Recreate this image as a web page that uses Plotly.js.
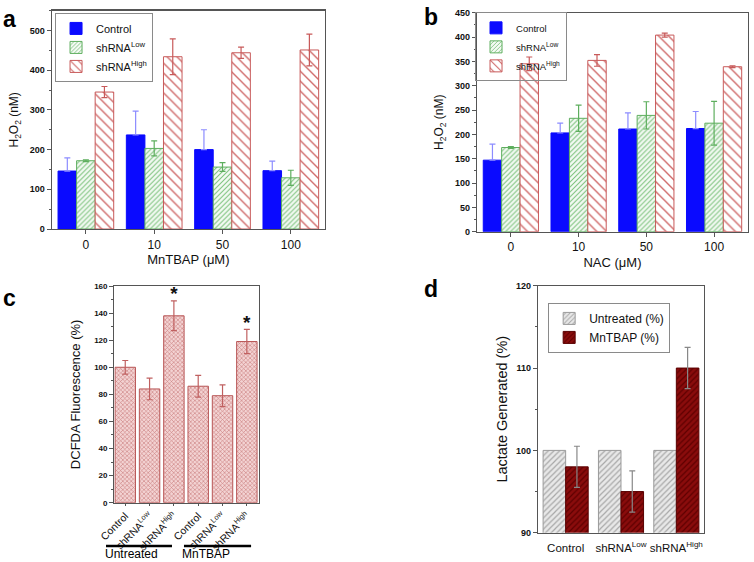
<!DOCTYPE html>
<html>
<head>
<meta charset="utf-8">
<script src="https://cdn.plot.ly/plotly-3.0.1.min.js"></script>
<style>html,body{margin:0;padding:0;background:#fff;}#chart{width:754px;height:562px;}</style>
</head>
<body>
<div id="chart"></div>
<script>
// ---------- Panel a: H2O2 vs MnTBAP ----------
const doseCats = ["0", "10", "50", "100"];
const aControl = [146, 237, 200, 147];
const aControlErr = [33, 60, 50, 24];
const aLow = [172, 203, 156, 129];
const aLowErr = [2, 19, 11, 19];
const aHigh = [345, 434, 444, 451];
const aHighErr = [14, 45, 14, 40];

// ---------- Panel b: H2O2 vs NAC ----------
const bControl = [147, 203, 211, 212];
const bControlErr = [33, 20, 33, 35];
const bLow = [173, 233, 239, 223];
const bLowErr = [2, 27, 28, 45];
const bHigh = [345, 352, 404, 339];
const bHighErr = [14, 12, 4, 2];

// ---------- Panel c: DCFDA fluorescence ----------
const cLabels = ["Control", "shRNA<sup>Low</sup>", "shRNA<sup>High</sup>", "Control", "shRNA<sup>Low</sup>", "shRNA<sup>High</sup>"];
const cValues = [100, 84, 138, 86, 79, 119];
const cErr = [5, 8, 11, 8, 8, 9];
const cStars = ["", "", "*", "", "", "*"];
const cGroups = ["Untreated", "MnTBAP"];

// ---------- Panel d: Lactate ----------
const dCats = ["Control", "shRNA<sup>Low</sup>", "shRNA<sup>High</sup>"];
const dUntreated = [100, 100, 100];
const dMnTBAP = [98, 95, 110];
const dMnTBAPErr = [2.5, 2.5, 2.5];

const FONT = "Liberation Sans, Arial, sans-serif";
const BLUE = "#0a0aff";
const GREEN = "#5eae5e";
const RED = "#c85a5a";

function ctrlTrace(x, y, err, xa, ya, lg) {
  return {type: "bar", name: "Control", x: x, y: y, xaxis: xa, yaxis: ya, legend: lg,
    marker: {color: BLUE, line: {color: BLUE, width: 1}},
    error_y: {type: "data", symmetric: false, array: err, arrayminus: err.map(() => 0), color: "#8c8cff", thickness: 1.2, width: 3}};
}
function lowTrace(x, y, err, xa, ya, lg) {
  return {type: "bar", name: "shRNA<sup>Low</sup>", x: x, y: y, xaxis: xa, yaxis: ya, legend: lg,
    marker: {color: "#f4faf4", line: {color: GREEN, width: 1},
      pattern: {shape: "/", fgcolor: "#7cc27c", bgcolor: "#f4faf4", size: 3.5, solidity: 0.3}},
    error_y: {type: "data", array: err, color: GREEN, thickness: 1.2, width: 3}};
}
function highTrace(x, y, err, xa, ya, lg) {
  return {type: "bar", name: "shRNA<sup>High</sup>", x: x, y: y, xaxis: xa, yaxis: ya, legend: lg,
    marker: {color: "#ffffff", line: {color: RED, width: 1},
      pattern: {shape: "\\", fgcolor: "#d06a6a", bgcolor: "#ffffff", size: 7, solidity: 0.2}},
    error_y: {type: "data", array: err, color: RED, thickness: 1.2, width: 3}};
}

const cIdx = cLabels.map((_, i) => i);
const starIdx = cIdx.filter(i => cStars[i] !== "");

const data = [
  ctrlTrace(doseCats, aControl, aControlErr, "x", "y", "legend"),
  lowTrace(doseCats, aLow, aLowErr, "x", "y", "legend"),
  highTrace(doseCats, aHigh, aHighErr, "x", "y", "legend"),
  ctrlTrace(doseCats, bControl, bControlErr, "x2", "y2", "legend2"),
  lowTrace(doseCats, bLow, bLowErr, "x2", "y2", "legend2"),
  highTrace(doseCats, bHigh, bHighErr, "x2", "y2", "legend2"),
  {type: "bar", name: "DCFDA", x: cIdx, y: cValues, xaxis: "x3", yaxis: "y3", showlegend: false, width: 0.84,
    marker: {color: "#eec4c4", line: {color: "#b85555", width: 1},
      pattern: {shape: "x", fgcolor: "#c97b7b", bgcolor: "#f3d3d3", size: 3, solidity: 0.35}},
    error_y: {type: "data", array: cErr, color: "#c06060", thickness: 1.2, width: 3}},
  {type: "scatter", mode: "text", x: starIdx, y: starIdx.map(i => cValues[i] + cErr[i] + 4), text: starIdx.map(i => cStars[i]),
    xaxis: "x3", yaxis: "y3", showlegend: false, textfont: {family: FONT, size: 19, color: "#111", weight: "bold"}, hoverinfo: "skip"},
  {type: "bar", name: "Untreated (%)", x: dCats, y: dUntreated, xaxis: "x4", yaxis: "y4", legend: "legend3",
    marker: {color: "#e4e4e4", line: {color: "#9a9a9a", width: 1},
      pattern: {shape: "/", fgcolor: "#a8a8a8", bgcolor: "#e8e8e8", size: 4, solidity: 0.3}}},
  {type: "bar", name: "MnTBAP (%)", x: dCats, y: dMnTBAP, xaxis: "x4", yaxis: "y4", legend: "legend3",
    marker: {color: "#850a0a", line: {color: "#5a0000", width: 1},
      pattern: {shape: "/", fgcolor: "#5e0000", bgcolor: "#8a0c0c", size: 4, solidity: 0.3}},
    error_y: {type: "data", array: dMnTBAPErr, color: "#888888", thickness: 1.2, width: 3}}
];

const axBase = {showline: true, mirror: true, linecolor: "#555", linewidth: 1.2, showgrid: false, zeroline: false,
  ticks: "outside", ticklen: 4, tickcolor: "#555", fixedrange: true};

function legendCfg(x, y, size, bg) {
  return {x: x, y: y, xanchor: "left", yanchor: "top", bgcolor: bg, bordercolor: "#8a8a8a", borderwidth: 1,
    font: {family: FONT, size: size, color: "#111"}, tracegroupgap: 0, itemwidth: 30};
}

function label(txt, x, y, size, extra) {
  return Object.assign({text: txt, xref: "paper", yref: "paper", x: x, y: y, xanchor: "center", yanchor: "middle",
    showarrow: false, font: {size: size, color: "#000"}}, extra || {});
}

const layout = {
  width: 754, height: 562,
  margin: {l: 0, r: 0, t: 0, b: 0},
  paper_bgcolor: "#fff", plot_bgcolor: "#fff",
  barmode: "group", bargap: 0.185, bargroupgap: 0,
  font: {family: FONT, color: "#111"},
  showlegend: true,
  legend: legendCfg(0.073, 0.977, 11, "#ffffff"),
  legend2: legendCfg(0.630, 0.978, 9.5, "rgba(255,255,255,0)"),
  legend3: legendCfg(0.727, 0.461, 12, "#ffffff"),
  xaxis: Object.assign({}, axBase, {domain: [0.0686, 0.431], anchor: "y", type: "category", range: [-0.5, 3.5],
    tickfont: {size: 12}, title: {text: "MnTBAP (μM)", font: {size: 13}, standoff: 4}}),
  yaxis: Object.assign({}, axBase, {domain: [0.5925, 0.981], anchor: "x", range: [0, 550], dtick: 100,
    minor: {ticks: "outside", ticklen: 2, dtick: 50, tickcolor: "#555"},
    tickfont: {size: 9, weight: "bold"}, title: {text: "H<sub>2</sub>O<sub>2</sub> (nM)", font: {size: 12}, standoff: 8}}),
  xaxis2: Object.assign({}, axBase, {domain: [0.6326, 0.992], anchor: "y2", type: "category", range: [-0.5, 3.5],
    tickfont: {size: 12}, title: {text: "NAC (μM)", font: {size: 13}, standoff: 4}}),
  yaxis2: Object.assign({}, axBase, {domain: [0.5877, 0.9774], anchor: "x2", range: [0, 450], dtick: 50,
    minor: {ticks: "outside", ticklen: 2, dtick: 25, tickcolor: "#555"},
    tickfont: {size: 9, weight: "bold"}, title: {text: "H<sub>2</sub>O<sub>2</sub> (nM)", font: {size: 12}, standoff: 8}}),
  xaxis3: Object.assign({}, axBase, {domain: [0.1516, 0.3435], anchor: "y3", range: [-0.45, 5.5],
    tickmode: "array", tickvals: cIdx, ticktext: cLabels, tickangle: -45, ticklen: 2, tickfont: {size: 10.5}}),
  yaxis3: Object.assign({}, axBase, {domain: [0.1055, 0.4911], anchor: "x3", range: [0, 160], dtick: 20,
    minor: {ticks: "outside", ticklen: 2, dtick: 10, tickcolor: "#555"},
    tickfont: {size: 8, weight: "bold"}, title: {text: "DCFDA Fluorescence (%)", font: {size: 13}, standoff: 10}}),
  xaxis4: Object.assign({}, axBase, {domain: [0.7135, 0.9337], anchor: "y4", type: "category", range: [-0.5, 2.5],
    ticks: "", tickangle: 0, ticklabelstandoff: 4, tickfont: {size: 11.5}}),
  yaxis4: Object.assign({}, axBase, {domain: [0.0521, 0.4916], anchor: "x4", range: [90, 120], dtick: 10,
    minor: {ticks: "outside", ticklen: 2, dtick: 5, tickcolor: "#555"},
    tickfont: {size: 9, weight: "bold"}, title: {text: "Lactate Generated (%)", font: {size: 14.5}, standoff: 4}}),
  shapes: [
    {type: "line", xref: "paper", yref: "paper", x0: 0.1406, x1: 0.2281, y0: 0.0285, y1: 0.0285, line: {color: "#000", width: 2.5}},
    {type: "line", xref: "paper", yref: "paper", x0: 0.2440, x1: 0.3330, y0: 0.0285, y1: 0.0285, line: {color: "#000", width: 2.5}}
  ],
  annotations: [
    label(cGroups[0], 0.175, 0.0142, 12),
    label(cGroups[1], 0.273, 0.0142, 12),
    label("<b>a</b>", 0.012, 0.966, 23),
    label("<b>b</b>", 0.571, 0.970, 23),
    label("<b>c</b>", 0.013, 0.470, 23),
    label("<b>d</b>", 0.571, 0.486, 23)
  ]
};

Plotly.newPlot("chart", data, layout, {staticPlot: true, displayModeBar: false});
</script>
</body>
</html>
